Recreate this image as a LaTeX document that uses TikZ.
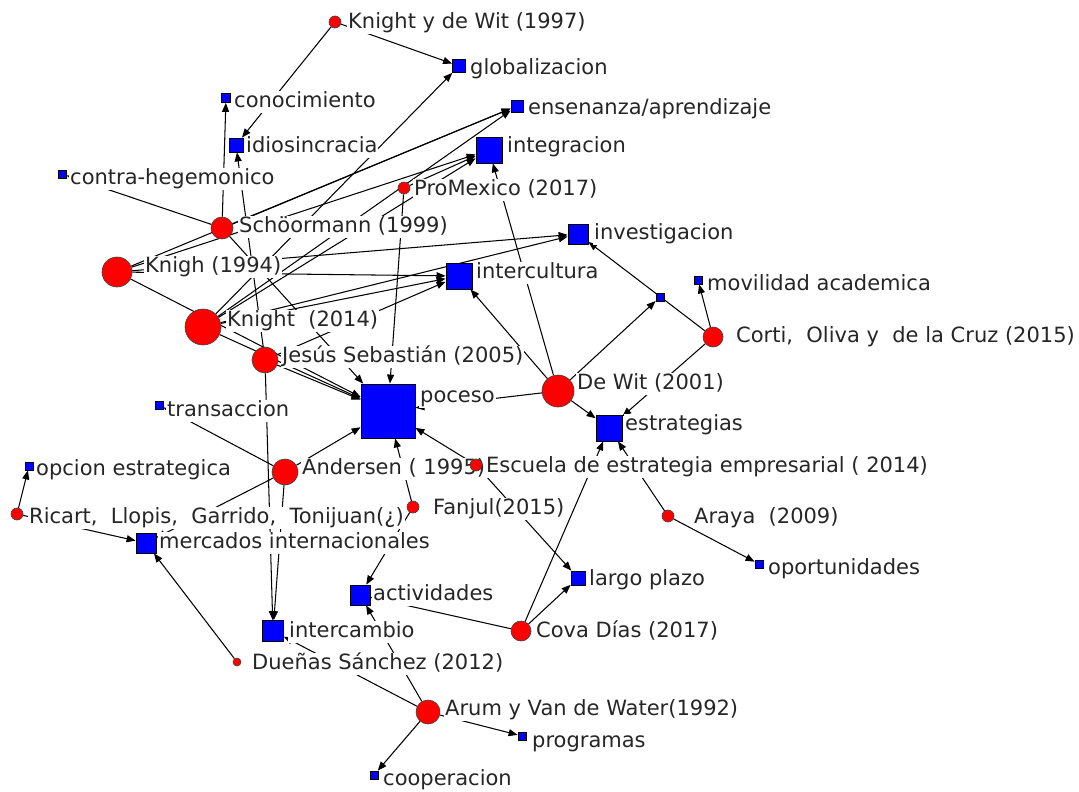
\documentclass[tikz,border=0pt]{standalone}
\usepackage{fontspec}
\setmainfont{DejaVu Sans}
\usetikzlibrary{arrows.meta}
\pgfdeclarelayer{nodelayer}
\pgfsetlayers{main,nodelayer}

\tikzset{
  author/.style={circle, draw=black!75, fill=red, inner sep=0pt, line width=0.6pt},
  concept/.style={rectangle, draw=black, fill=blue, inner sep=0pt, line width=0.8pt},
  tag/.style={anchor=west, fill=white, inner xsep=1pt, inner ysep=1pt, yshift=-1pt,
              text height=16pt, text depth=4.5pt,
              font=\fontsize{21}{24}\selectfont, text=black!85},
  tie/.style={line width=1.05pt, -{Triangle[length=9pt,width=7pt]}},
}

\begin{document}
\begin{tikzpicture}[x=1pt,y=-1pt]
\fill[white] (0,0) rectangle (1079,792);
\useasboundingbox (0,0) rectangle (1079,792);

% node shapes go on the top layer, above ties and captions
\begin{pgfonlayer}{nodelayer}
% authors (red circles)
\node[author, minimum size=12pt] (kdw)  at (335,22)  {};
\node[author, minimum size=12pt] (pmx)  at (404,188) {};
\node[author, minimum size=22pt] (sch)  at (222,228) {};
\node[author, minimum size=30pt] (k94)  at (117,272) {};
\node[author, minimum size=36pt] (k14)  at (203,327) {};
\node[author, minimum size=20pt] (cor)  at (713,337) {};
\node[author, minimum size=26pt] (js)   at (265,360) {};
\node[author, minimum size=32pt] (dw)   at (558,391) {};
\node[author, minimum size=26pt] (and)  at (285,472) {};
\node[author, minimum size=12pt] (esc)  at (476,465) {};
\node[author, minimum size=12pt] (fan)  at (413,507) {};
\node[author, minimum size=12pt] (ara)  at (668,516) {};
\node[author, minimum size=12pt] (ric)  at (17,514)  {};
\node[author, minimum size=20pt] (cova) at (521,631) {};
\node[author, minimum size=8pt]  (due)  at (237,662) {};
\node[author, minimum size=24pt] (arum) at (428,712) {};

% concepts (blue squares)
\node[concept, minimum size=13pt] (glob)  at (459,66)  {};
\node[concept, minimum size=9pt]  (cono)  at (226,98)  {};
\node[concept, minimum size=12pt] (ens)   at (517,106) {};
\node[concept, minimum size=14pt] (idio)  at (236,145) {};
\node[concept, minimum size=26pt] (integ) at (489,150) {};
\node[concept, minimum size=8pt]  (contra) at (62,174) {};
\node[concept, minimum size=20pt] (inv)   at (578,234) {};
\node[concept, minimum size=26pt] (intc)  at (459,276) {};
\node[concept, minimum size=8pt]  (mov)   at (698,280) {};
\node[concept, minimum size=8pt]  (sqz)   at (660,297) {};
\node[concept, minimum size=54pt] (poc)   at (388,411) {};
\node[concept, minimum size=8pt]  (trans) at (159,405) {};
\node[concept, minimum size=26pt] (estr)  at (609,428) {};
\node[concept, minimum size=8pt]  (opc)   at (29,466)  {};
\node[concept, minimum size=20pt] (merc)  at (146,543) {};
\node[concept, minimum size=20pt] (act)   at (360,595) {};
\node[concept, minimum size=14pt] (larg)  at (578,578) {};
\node[concept, minimum size=8pt]  (opor)  at (759,564) {};
\node[concept, minimum size=21pt] (intcb) at (273,631) {};
\node[concept, minimum size=8pt]  (prog)  at (522,736) {};
\node[concept, minimum size=8pt]  (coop)  at (374,775) {};
\end{pgfonlayer}

% ties from authors to concepts
\foreach \a/\b in {kdw/glob, kdw/idio, k14/glob, sch/cono, sch/contra,
    sch/ens, k94/ens, k14/ens, js/idio, k94/integ, k14/integ, pmx/integ,
    dw/integ, pmx/poc, k94/inv, k14/inv, cor/inv, dw/sqz, cor/mov,
    cor/estr, dw/estr, dw/intc, dw/poc, esc/poc, and/poc, fan/poc, js/poc,
    k94/poc, k14/poc, sch/poc, k94/intc, k14/intc, js/intc, and/trans,
    js/intcb, and/intcb, and/merc, ric/opc, ric/merc, due/merc,
    arum/intcb, arum/act, arum/prog, arum/coop, cova/act, cova/larg,
    cova/estr, esc/larg, ara/estr, ara/opor, fan/act}
  \draw[tie] (\a) -- (\b);

% captions on white, drawn after the ties so they mask them
\node[tag] (l-kdw)  at (347,22)  {Knight y de Wit (1997)};
\node[tag] (l-glob) at (469,68)  {globalizacion};
\node[tag] (l-cono) at (233,101) {conocimiento};
\node[tag] (l-ens)  at (527,108) {ensenanza/aprendizaje};
\node[tag] (l-idio) at (245,146) {idiosincracia};
\node[tag] (l-integ) at (506,146) {integracion};
\node[tag] (l-contra) at (69,178) {contra-hegemonico};
\node[tag] (l-pmx)  at (413,189) {ProMexico (2017)};
\node[tag] (l-sch)  at (238,226) {Schöormann (1999)};
\node[tag] (l-inv)  at (593,233) {investigacion};
\node[tag] (l-k94)  at (144,266) {Knigh (1994)};
\node[tag] (l-intc) at (475,272) {intercultura};
\node[tag] (l-mov)  at (706,284) {movilidad academica};
\node[tag] (l-k14)  at (226,320) {Knight\ \ (2014)};
\node[tag] (l-cor)  at (735,336) {Corti,\ \ Oliva y\ \ de la Cruz (2015)};
\node[tag] (l-js)   at (281,356) {Jesús Sebastián (2005)};
\node[tag] (l-poc)  at (419,396) {poceso};
\node[tag] (l-dw)   at (576,383) {De Wit (2001)};
\node[tag] (l-trans) at (166,410) {transaccion};
\node[tag] (l-estr) at (624,424) {estrategias};
\node[tag] (l-opc)  at (35,469)  {opcion estrategica};
\node[tag] (l-and)  at (301,468) {Andersen ( 1995)};
\node[tag] (l-esc)  at (485,466) {Escuela de estrategia empresarial ( 2014)};
\node[tag] (l-fan)  at (432,508) {Fanjul(2015)};
\node[tag] (l-ara)  at (693,517) {Araya\ \ (2009)};
\node[tag] (l-ric)  at (28,517)  {Ricart,\ \ Llopis,\ \ Garrido,\ \ Tonijuan(¿)};
\node[tag] (l-merc) at (158,542) {mercados internacionales};
\node[tag] (l-act)  at (372,594) {actividades};
\node[tag] (l-larg) at (588,579) {largo plazo};
\node[tag] (l-opor) at (767,568) {oportunidades};
\node[tag] (l-intcb) at (288,631) {intercambio};
\node[tag] (l-cova) at (535,631) {Cova Días (2017)};
\node[tag] (l-due)  at (251,663) {Dueñas Sánchez (2012)};
\node[tag] (l-arum) at (444,709) {Arum y Van de Water(1992)};
\node[tag] (l-prog) at (531,741) {programas};
\node[tag] (l-coop) at (382,779) {cooperacion};
\end{tikzpicture}
\end{document}
